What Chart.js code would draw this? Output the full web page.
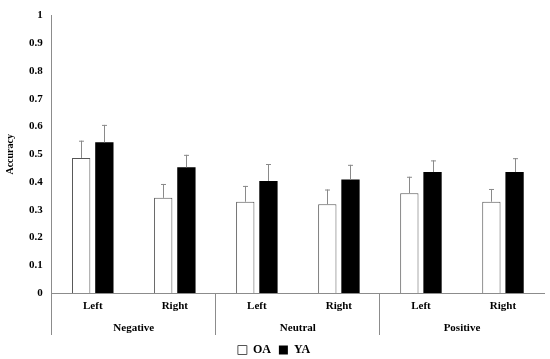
<!DOCTYPE html>
<html>
<head>
<meta charset="utf-8">
<script src="https://cdn.jsdelivr.net/npm/chart.js@4"></script>
<style>
  body { margin: 0; background: #fff; }
  #wrap { width: 550px; height: 359px; }
</style>
</head>
<body>
<div id="wrap"><canvas id="myChart"></canvas></div>
<script>
var sides = ["Left", "Right", "Left", "Right", "Left", "Right"];
var groups = ["Negative", "Neutral", "Positive"];
var oaMeans = [0.487, 0.343, 0.329, 0.320, 0.360, 0.329];
var yaMeans = [0.543, 0.453, 0.404, 0.409, 0.436, 0.436];
var oaErr = [0.062, 0.050, 0.057, 0.053, 0.059, 0.046];
var yaErr = [0.063, 0.045, 0.061, 0.053, 0.042, 0.050];

var serif = "'Liberation Serif', 'Times New Roman', serif";
var axisGrey = "#8c8c8c";

// upward-only error bars with a small cap
var errorBars = {
  id: "errorBars",
  afterDatasetsDraw: function (chart) {
    var ctx = chart.ctx;
    var y = chart.scales.y;
    ctx.save();
    ctx.strokeStyle = "#8a8a8a";
    ctx.lineWidth = 1;
    chart.data.datasets.forEach(function (ds, di) {
      var meta = chart.getDatasetMeta(di);
      meta.data.forEach(function (bar, i) {
        var top = y.getPixelForValue(ds.data[i] + ds.err[i]);
        var x = Math.round(bar.x) + 0.5;
        ctx.beginPath();
        ctx.moveTo(x, bar.y);
        ctx.lineTo(x, top);
        ctx.moveTo(x - 2.5, top + 0.5);
        ctx.lineTo(x + 2.5, top + 0.5);
        ctx.stroke();
      });
    });
    ctx.restore();
  }
};

var ctx = document.getElementById("myChart").getContext("2d");
var chart = new Chart(ctx, {
  type: "bar",
  data: {
    labels: sides,
    datasets: [
      {
        label: "OA",
        data: oaMeans,
        err: oaErr,
        backgroundColor: "#ffffff",
        borderColor: "#555555",
        borderWidth: 1
      },
      {
        label: "YA",
        data: yaMeans,
        err: yaErr,
        backgroundColor: "#000000",
        borderColor: "#000000",
        borderWidth: 0
      }
    ]
  },
  options: {
    responsive: true,
    maintainAspectRatio: false,
    animation: false,
    categoryPercentage: 0.565,
    barPercentage: 0.79,
    layout: { padding: { top: 0, right: 6, left: 4, bottom: -7 } },
    plugins: {
      tooltip: { enabled: false },
      legend: {
        position: "bottom",
        labels: {
          color: "#000",
          boxWidth: 9,
          boxHeight: 9,
          padding: 8,
          font: { family: serif, size: 12, weight: "bold" }
        }
      }
    },
    scales: {
      x: {
        grid: {
          display: true,
          offset: true,
          drawOnChartArea: false,
          tickLength: 42,
          color: function (c) { return c.index % 2 === 0 ? axisGrey : "rgba(0,0,0,0)"; }
        },
        border: { color: axisGrey },
        ticks: {
          color: "#000",
          padding: -35,
          font: { family: serif, size: 11, weight: "bold" }
        },
        afterFit: function (scale) { scale.height = 22; }
      },
      x2: {
        type: "category",
        labels: groups,
        position: "bottom",
        offset: true,
        grid: { display: false, drawTicks: false },
        border: { display: false },
        ticks: {
          color: "#000",
          padding: 7,
          font: { family: serif, size: 11, weight: "bold" }
        },
        afterFit: function (scale) { scale.height = 21; }
      },
      y: {
        min: 0,
        max: 1,
        grid: { display: false, drawTicks: false },
        border: { color: axisGrey },
        ticks: {
          stepSize: 0.1,
          color: "#000",
          padding: 9,
          font: { family: serif, size: 11, weight: "bold" },
          callback: function (v) { return String(Math.round(v * 10) / 10); }
        },
        title: {
          display: true,
          text: "Accuracy",
          color: "#000",
          padding: { top: 0, bottom: 4 },
          font: { family: serif, size: 10, weight: "bold" }
        }
      }
    }
  },
  plugins: [errorBars]
});
</script>
</body>
</html>
